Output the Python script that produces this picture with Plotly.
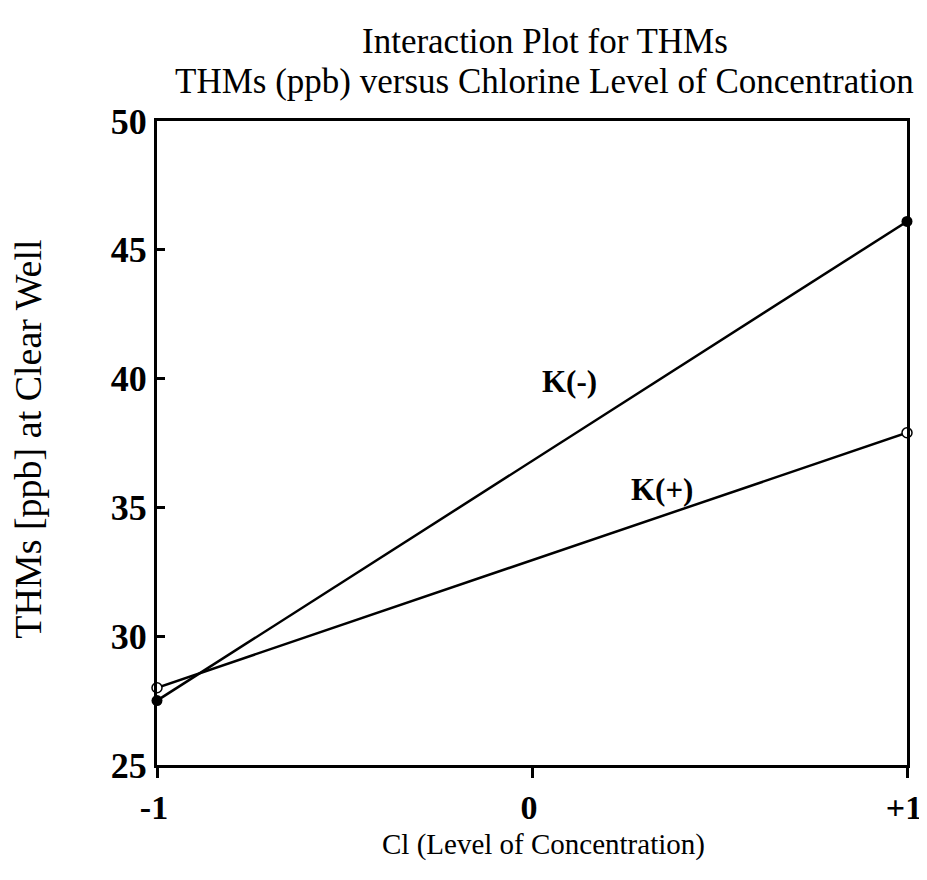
import plotly.graph_objects as go

x_levels = [-1, 1]
x_tick_vals = [-1, 0, 1]
x_tick_text = ["-1", "0", "+1"]
y_tick_vals = [25, 30, 35, 40, 45, 50]
k_minus = [27.5, 46.1]
k_plus = [28.0, 37.9]

SERIF = "Liberation Serif, Times New Roman, serif"

fig = go.Figure()
fig.add_trace(go.Scatter(
    x=x_levels, y=k_minus, mode="lines+markers", name="K(-)",
    line=dict(color="black", width=2.5),
    marker=dict(symbol="circle", size=11, color="black"),
    cliponaxis=False, showlegend=False))
fig.add_trace(go.Scatter(
    x=x_levels, y=k_plus, mode="lines+markers", name="K(+)",
    line=dict(color="black", width=2.5),
    marker=dict(symbol="circle", size=10, color="white", line=dict(color="black", width=1.5)),
    cliponaxis=False, showlegend=False))

fig.update_layout(
    width=919, height=872,
    margin=dict(l=149, r=20, t=113, b=115),
    paper_bgcolor="white", plot_bgcolor="white",
    font=dict(family=SERIF, color="black"),
    xaxis=dict(range=[-1, 1], tickvals=x_tick_vals, ticktext=x_tick_text,
               automargin=False,
               showgrid=False, zeroline=False, showline=True, linecolor="black",
               linewidth=3, mirror=True, ticks="outside", ticklen=10, tickwidth=2.5,
               tickcolor="black", ticklabelstandoff=0, ticklabelshift=-3,
               tickfont=dict(family=SERIF, size=34, weight="bold")),
    yaxis=dict(range=[25, 50], tickvals=y_tick_vals,
               automargin=False,
               showgrid=False, zeroline=False, showline=True, linecolor="black",
               linewidth=3, mirror=True, ticks="inside", ticklen=8, tickwidth=2.5,
               tickcolor="black",
               tickfont=dict(family=SERIF, size=36, weight="bold")),
    annotations=[
        dict(text="Interaction Plot for THMs", xref="paper", yref="paper",
             x=0.517, y=1.1227, showarrow=False, xanchor="center", yanchor="middle",
             font=dict(family=SERIF, size=35)),
        dict(text="THMs (ppb) versus Chlorine Level of Concentration", xref="paper", yref="paper",
             x=0.517, y=1.0606, showarrow=False, xanchor="center", yanchor="middle",
             font=dict(family=SERIF, size=35)),
        dict(text="Cl (Level of Concentration)", xref="paper", yref="paper",
             x=0.515, y=-0.124, showarrow=False, xanchor="center", yanchor="middle",
             font=dict(family=SERIF, size=29)),
        dict(text="THMs [ppb] at Clear Well", xref="paper", yref="paper",
             x=-0.172, y=0.505, showarrow=False, xanchor="center", yanchor="middle",
             textangle=-90, font=dict(family=SERIF, size=38)),
        dict(text="K(-)", xref="x", yref="y", x=0.1, y=39.9, showarrow=False,
             font=dict(family=SERIF, size=31, weight="bold")),
        dict(text="K(+)", xref="x", yref="y", x=0.347, y=35.7, showarrow=False,
             font=dict(family=SERIF, size=31, weight="bold")),
    ],
)

fig.write_html("out.html")
